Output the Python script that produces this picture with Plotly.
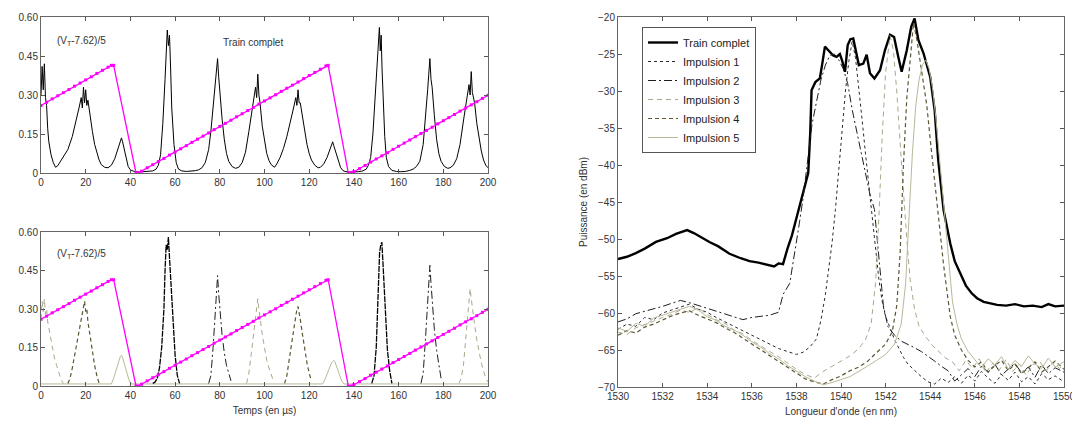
import plotly.graph_objects as go

# ---------------- Left panels: time traces (t in microseconds) ----------------
t_train = [0, 0.5, 1, 1.5, 2, 2.5, 3, 3.5, 4.5, 5.5, 6.5,
           7.5, 8.5, 10, 12, 14, 15.5, 17, 18, 18.5, 19, 19.5, 20, 20.5, 21, 22, 23, 24, 25, 26, 27, 28.5,
           30, 31.5, 33, 34.5, 35.5, 36, 36.5, 37, 38, 39, 40, 41, 42, 44, 46,
           48, 50, 51.5, 52.5, 53.5, 54.5, 55.5, 56, 56.5, 57, 57.5, 58, 58.5, 59.5, 60.5, 61.5, 63, 65, 67, 69,
           70.5, 72, 73.5, 75, 76, 77, 78, 78.5, 79, 79.5, 80, 81, 82, 83, 84, 85.5, 87,
           88.5, 90, 91.5, 93, 94.5, 95.5, 96, 96.5, 97, 97.5, 98, 99, 100, 101, 102, 103, 104.5,
           105.5, 107, 108.5, 110, 111.5, 113, 114, 114.5, 115, 115.5, 116, 117, 118, 119, 120, 121, 122.5, 124,
           125, 126.5, 128, 129, 130, 130.5, 131, 132, 133, 134, 135, 136, 138, 140, 142, 144, 145.5,
           146.5, 147.5, 148.5, 149.5, 150.2, 150.8, 151.4, 151.8, 152.2, 152.6, 153.2, 153.8, 154.5, 155.5, 157, 159, 161, 163, 165,
           166.5, 168, 169.5, 171, 172, 173, 173.5, 174, 174.5, 175, 176, 177, 178, 179, 180.5, 182,
           183, 184.5, 186, 187.5, 189, 190.5, 191.5, 192, 192.5, 193, 194, 195, 196, 197, 198, 199, 200]
v_train = [0.30, 0.41, 0.32, 0.42, 0.29, 0.26, 0.17, 0.12, 0.07, 0.04, 0.022,
           0.028, 0.042, 0.065, 0.09, 0.14, 0.19, 0.25, 0.29, 0.25, 0.33, 0.27, 0.32, 0.26, 0.28, 0.21, 0.16, 0.11, 0.075, 0.05, 0.032, 0.022,
           0.02, 0.03, 0.055, 0.095, 0.12, 0.135, 0.12, 0.10, 0.06, 0.025, 0.012, 0.007, 0.005, 0.004, 0.005,
           0.005, 0.008, 0.015, 0.03, 0.07, 0.19, 0.36, 0.47, 0.55, 0.49, 0.53, 0.40, 0.25, 0.11, 0.04, 0.015, 0.008, 0.006, 0.007, 0.009,
           0.012, 0.02, 0.04, 0.09, 0.16, 0.25, 0.35, 0.40, 0.44, 0.37, 0.31, 0.21, 0.13, 0.075, 0.045, 0.025, 0.018,
           0.022, 0.04, 0.08, 0.16, 0.24, 0.30, 0.33, 0.29, 0.38, 0.30, 0.27, 0.18, 0.12, 0.075, 0.048, 0.032, 0.022,
           0.035, 0.06, 0.095, 0.14, 0.19, 0.25, 0.29, 0.26, 0.32, 0.27, 0.27, 0.21, 0.15, 0.11, 0.075, 0.05, 0.03, 0.02,
           0.022, 0.035, 0.06, 0.085, 0.11, 0.12, 0.105, 0.075, 0.045, 0.022, 0.01, 0.006, 0.004, 0.004, 0.005, 0.008, 0.015,
           0.03, 0.06, 0.15, 0.29, 0.42, 0.50, 0.56, 0.47, 0.53, 0.40, 0.25, 0.14, 0.06, 0.025, 0.01, 0.006, 0.005, 0.006, 0.01,
           0.015, 0.025, 0.045, 0.11, 0.2, 0.32, 0.38, 0.44, 0.36, 0.33, 0.22, 0.13, 0.075, 0.045, 0.025, 0.018,
           0.02, 0.03, 0.055, 0.11, 0.2, 0.28, 0.34, 0.30, 0.39, 0.31, 0.27, 0.19, 0.13, 0.085, 0.05, 0.03, 0.02]

# Sawtooth control voltage (V_T - 7.62)/5
saw_t = [0, 2.5, 5, 7.5, 10, 12.5, 15, 17.5, 20, 22.5, 25, 27.5, 30, 31.5, 32.5,
         42.5, 43.5, 45, 47.5, 50, 52.5, 55, 57.5, 60, 62.5, 65, 67.5, 70, 72.5, 75, 77.5, 80, 82.5, 85,
         87.5, 90, 92.5, 95, 97.5, 100, 102.5, 105, 107.5, 110, 112.5, 115, 117.5, 120, 122.5, 125, 127.5, 128.5,
         137.5, 139, 140, 142.5, 145, 147.5, 150, 152.5, 155, 157.5, 160, 162.5, 165, 167.5, 170, 172.5, 175,
         177.5, 180, 182.5, 185, 187.5, 190, 192.5, 195, 197.5, 200]
saw_v = [0.260, 0.272, 0.285, 0.297, 0.309, 0.321, 0.334, 0.346, 0.358, 0.370, 0.383, 0.395, 0.407, 0.414, 0.414,
         0.0, 0.0, 0.007, 0.020, 0.032, 0.044, 0.056, 0.069, 0.081, 0.093, 0.105, 0.118, 0.130, 0.142, 0.154, 0.167, 0.179, 0.191, 0.203,
         0.216, 0.228, 0.240, 0.252, 0.265, 0.277, 0.289, 0.301, 0.314, 0.326, 0.338, 0.350, 0.363, 0.375, 0.387, 0.399, 0.412, 0.414,
         0.0, 0.0, 0.005, 0.017, 0.029, 0.042, 0.054, 0.066, 0.078, 0.091, 0.103, 0.115, 0.127, 0.140, 0.152, 0.164, 0.176,
         0.189, 0.201, 0.213, 0.225, 0.238, 0.250, 0.262, 0.274, 0.287, 0.299]

# Individual pulses (bottom panel); None separates pulses
imp1_t = [50, 51, 52, 53, 54, 55, 55.5, 56, 56.5, 57, 57.5, 58, 58.5, 59, 60, 61, 62, None,
          148, 149, 150, 150.5, 151, 151.5, 152, 152.5, 153, 153.5, 154, 155, 156, 157]
imp1_v = [0.01, 0.015, 0.03, 0.07, 0.15, 0.30, 0.45, 0.55, 0.53, 0.58, 0.50, 0.42, 0.35, 0.26, 0.12, 0.04, 0.01, None,
          0.01, 0.04, 0.15, 0.30, 0.45, 0.52, 0.55, 0.56, 0.48, 0.38, 0.28, 0.14, 0.06, 0.01]
imp2_t = [75, 76, 77, 78, 78.5, 79, 79.5, 80, 81, 82, 83, 84, 85, None,
          170, 171, 172, 173, 173.5, 174, 174.5, 175, 176, 177, 178, 179]
imp2_v = [0.01, 0.04, 0.15, 0.30, 0.38, 0.43, 0.36, 0.30, 0.20, 0.13, 0.08, 0.05, 0.02, None,
          0.01, 0.05, 0.18, 0.33, 0.42, 0.47, 0.40, 0.33, 0.22, 0.14, 0.08, 0.03]
imp3_t = [0, 0.5, 1, 1.5, 2, 2.5, 3, 4, 5, 6, 7, 8, 9, 10, None,
          92, 93, 94, 95, 96, 96.5, 97, 97.5, 98, 99, 100, 101, 102, 103, 104, None,
          187, 188, 189, 190, 191, 191.5, 192, 192.5, 193, 194, 195, 196, 197, 198, 199, 200]
imp3_v = [0.26, 0.33, 0.29, 0.34, 0.28, 0.30, 0.25, 0.20, 0.15, 0.11, 0.08, 0.05, 0.025, 0.01, None,
          0.01, 0.05, 0.12, 0.20, 0.28, 0.31, 0.34, 0.30, 0.26, 0.20, 0.15, 0.10, 0.07, 0.04, 0.02, None,
          0.01, 0.03, 0.08, 0.18, 0.28, 0.33, 0.38, 0.34, 0.30, 0.24, 0.18, 0.13, 0.09, 0.06, 0.03, 0.015]
imp4_t = [12, 13, 14, 15, 16, 17, 18, 19, 19.5, 20, 20.5, 21, 22, 23, 24, 25, 26, None,
          109, 110, 111, 112, 113, 114, 114.5, 115, 115.5, 116, 117, 118, 119, 120, 121]
imp4_v = [0.01, 0.03, 0.07, 0.12, 0.17, 0.22, 0.27, 0.31, 0.33, 0.29, 0.30, 0.25, 0.19, 0.13, 0.08, 0.04, 0.01, None,
          0.01, 0.04, 0.10, 0.16, 0.22, 0.27, 0.30, 0.31, 0.29, 0.26, 0.20, 0.14, 0.09, 0.05, 0.02]
imp5_t = [0, 31.5, 32.5, 33.5, 34.5, 35.5, 36, 36.5, 37.5, 38.5, 39.5, 40.5,
          126, 127, 128, 129, 130, 131, 131.5, 132.5, 133.5, 134.5, 135.5, 200]
imp5_v = [0.008, 0.008, 0.03, 0.06, 0.09, 0.115, 0.12, 0.11, 0.08, 0.05, 0.02, 0.008,
          0.008, 0.025, 0.045, 0.07, 0.09, 0.10, 0.095, 0.07, 0.045, 0.02, 0.008, 0.008]

time_ticks = [0, 20, 40, 60, 80, 100, 120, 140, 160, 180, 200]
amp_ticks = [0, 0.15, 0.30, 0.45, 0.60]
amp_labels = ["0", "0.15", "0.30", "0.45", "0.60"]

# ---------------- Right panel: optical spectra (nm, dBm) ----------------
lam_t = [1530.0, 1530.4, 1530.8, 1531.2, 1531.7, 1532.2, 1532.6, 1532.9, 1533.1, 1533.4, 1533.8, 1534.1, 1534.5,
         1535.0, 1535.5, 1535.9, 1536.3, 1536.7, 1537.0, 1537.2, 1537.4, 1537.6, 1537.8, 1538.0, 1538.25, 1538.4,
         1538.53, 1538.62, 1538.68, 1538.85, 1539.05, 1539.15, 1539.28, 1539.4, 1539.5, 1539.65, 1539.8, 1539.95,
         1540.05, 1540.18, 1540.3, 1540.42, 1540.55, 1540.68, 1540.8, 1541.0, 1541.15, 1541.3, 1541.5, 1541.75,
         1541.97, 1542.2, 1542.38, 1542.57, 1542.72, 1542.95, 1543.15, 1543.3, 1543.47, 1543.7, 1544.0, 1544.2,
         1544.36, 1544.6, 1544.9, 1545.1, 1545.35, 1545.6, 1545.85, 1546.1, 1546.4, 1546.7, 1547.0, 1547.4, 1547.8,
         1548.2, 1548.6, 1549.0, 1549.3, 1549.6, 1550.0]
p_train = [-52.7, -52.4, -51.9, -51.3, -50.4, -49.9, -49.3, -49.0, -48.8, -49.2, -49.9, -50.4, -51.0,
           -52.0, -52.6, -53.0, -53.2, -53.5, -53.7, -53.3, -53.4, -51.3, -49.5, -47.2, -44.3, -42.5,
           -41.1, -35.7, -29.9, -28.8, -28.3, -26.5, -24.0, -24.4, -24.7, -25.2, -25.4, -25.0,
           -25.9, -27.4, -23.8, -23.0, -22.9, -24.6, -26.5, -26.3, -25.1, -27.6, -28.3, -27.2,
           -24.5, -22.4, -22.7, -25.4, -27.4, -24.5, -21.3, -20.2, -23.1, -24.9, -28.1, -32.6,
           -39.3, -46.1, -50.6, -53.0, -54.6, -56.3, -57.3, -58.0, -58.5, -58.7, -58.9, -59.0, -58.8,
           -59.1, -59.0, -59.2, -58.8, -59.1, -59.0]

lam1 = [1530.0, 1530.4, 1530.8, 1531.2, 1531.6, 1532.0, 1532.4, 1532.8, 1533.2, 1533.6, 1534.0, 1534.4, 1534.8,
        1535.2, 1535.6, 1536.0, 1536.4, 1536.8, 1537.2, 1537.6, 1538.0, 1538.3, 1538.6, 1538.9, 1539.1, 1539.3,
        1539.45, 1539.6, 1539.75, 1539.9, 1540.05, 1540.2, 1540.35, 1540.5, 1540.65, 1540.8, 1540.95, 1541.1,
        1541.25, 1541.4, 1541.55, 1541.7, 1541.85, 1542.0, 1542.2, 1542.4, 1542.6, 1542.8, 1543.0, 1543.3, 1543.6,
        1543.9, 1544.2, 1544.5, 1544.8, 1545.1, 1545.4, 1545.7, 1546.0, 1546.3, 1546.6, 1546.9, 1547.2, 1547.5,
        1547.8, 1548.1, 1548.4, 1548.7, 1549.0, 1549.3, 1549.6, 1550.0]
p1 = [-62.2, -61.5, -61.8, -60.6, -60.9, -60.0, -59.6, -59.2, -58.8, -59.5, -59.9, -60.6, -61.2,
      -61.9, -62.4, -63.1, -63.6, -64.3, -64.8, -65.2, -65.6, -65.3, -64.6, -63.5, -61.0, -57.5,
      -54.0, -50.5, -46.0, -40.5, -35.0, -30.0, -26.0, -23.3, -25.5, -29.5, -34.0, -38.5,
      -43.0, -47.5, -51.5, -55.5, -58.5, -60.5, -62.0, -63.6, -64.8, -66.0, -66.9, -67.8, -68.6,
      -69.3, -69.6, -68.8, -69.4, -68.6, -69.5, -68.4, -69.2, -67.9, -68.8, -69.5, -68.3, -69.1,
      -68.0, -69.3, -68.6, -69.6, -68.2, -69.0, -68.5, -69.3]

lam2 = [1530.0, 1530.4, 1530.8, 1531.2, 1531.6, 1532.0, 1532.4, 1532.8, 1533.2, 1533.6, 1534.0, 1534.4, 1534.8,
        1535.2, 1535.6, 1536.0, 1536.4, 1536.8, 1537.2, 1537.4, 1537.7, 1537.9, 1538.1, 1538.3, 1538.5, 1538.7,
        1538.9, 1539.1, 1539.3, 1539.5, 1539.7, 1539.9, 1540.1, 1540.3, 1540.5, 1540.7, 1540.9, 1541.1, 1541.3,
        1541.5, 1541.7, 1541.9, 1542.1, 1542.4, 1542.7, 1543.0, 1543.3, 1543.6, 1543.9, 1544.2, 1544.5, 1544.8,
        1545.1, 1545.4, 1545.7, 1546.0, 1546.3, 1546.6, 1546.9, 1547.2, 1547.5, 1547.8, 1548.1, 1548.4, 1548.7,
        1549.0, 1549.3, 1549.6, 1550.0]
p2 = [-61.2, -60.8, -60.1, -59.8, -59.4, -59.1, -58.7, -58.3, -58.6, -59.0, -59.3, -59.8, -60.2,
      -60.5, -60.9, -60.6, -60.5, -60.3, -59.9, -57.5, -56.0, -52.5, -48.5, -44.5, -39.5, -34.5,
      -31.5, -28.5, -26.5, -25.2, -25.0, -25.8, -27.0, -29.0, -32.5, -35.5, -38.5, -41.5, -44.0,
      -46.0, -52.0, -59.0, -61.8, -63.0, -63.8, -64.2, -64.7, -65.2, -65.8, -66.5, -67.2, -67.8,
      -69.2, -68.3, -67.5, -68.6, -67.2, -68.0, -66.9, -68.4, -67.6, -66.8, -68.1, -67.3, -68.7,
      -67.0, -68.2, -67.4, -68.0]

lam3 = [1530.0, 1530.4, 1530.8, 1531.2, 1531.6, 1532.0, 1532.4, 1532.8, 1533.2, 1533.6, 1534.0, 1534.4, 1534.8,
        1535.2, 1535.6, 1536.0, 1536.4, 1536.8, 1537.2, 1537.6, 1538.0, 1538.4, 1538.8, 1539.2, 1539.6, 1540.0,
        1540.4, 1540.8, 1541.1, 1541.35, 1541.55, 1541.7, 1541.85, 1542.0, 1542.2, 1542.35, 1542.5, 1542.65,
        1542.8, 1542.95, 1543.1, 1543.3, 1543.5, 1543.8, 1544.1, 1544.4, 1544.7, 1545.0, 1545.3, 1545.6, 1545.9,
        1546.2, 1546.5, 1546.8, 1547.1, 1547.4, 1547.7, 1548.0, 1548.3, 1548.6, 1548.9, 1549.2, 1549.5, 1549.8,
        1550.0]
p3 = [-62.6, -62.9, -62.0, -61.6, -61.1, -60.6, -60.2, -59.6, -59.9, -59.3, -60.2, -60.9, -61.4,
      -62.3, -62.8, -63.7, -64.5, -65.2, -65.9, -66.8, -67.6, -68.3, -68.8, -67.9, -67.2, -66.4,
      -65.8, -64.8, -63.6, -61.5, -56.0, -47.0, -36.0, -27.5, -22.5, -24.5, -30.0, -37.0,
      -44.0, -50.0, -55.5, -59.5, -61.8, -63.2, -64.4, -65.3, -66.1, -66.6, -67.8, -66.4, -67.5,
      -66.2, -68.1, -66.8, -67.7, -66.3, -67.9, -66.9, -68.4, -67.0, -66.5, -67.8, -66.7, -67.5,
      -66.9]

lam4 = [1530.0, 1530.4, 1530.8, 1531.2, 1531.6, 1532.0, 1532.4, 1532.8, 1533.2, 1533.6, 1534.0, 1534.4, 1534.8,
        1535.2, 1535.6, 1536.0, 1536.4, 1536.8, 1537.2, 1537.6, 1538.0, 1538.4, 1538.8, 1539.2, 1539.6, 1540.0,
        1540.4, 1540.8, 1541.2, 1541.6, 1542.0, 1542.3, 1542.5, 1542.65, 1542.8, 1542.95, 1543.1, 1543.25,
        1543.4, 1543.55, 1543.7, 1543.85, 1544.0, 1544.15, 1544.3, 1544.45, 1544.6, 1544.75, 1544.9, 1545.1,
        1545.4, 1545.7, 1546.0, 1546.3, 1546.6, 1546.9, 1547.2, 1547.5, 1547.8, 1548.1, 1548.4, 1548.7, 1549.0,
        1549.3, 1549.6, 1550.0]
p4 = [-63.0, -62.4, -62.7, -61.9, -61.5, -60.9, -60.4, -60.0, -59.7, -60.3, -60.8, -61.3, -62.0,
      -62.6, -63.4, -64.2, -65.0, -65.8, -66.6, -67.4, -68.2, -68.9, -69.3, -69.6, -69.0, -68.5,
      -67.8, -67.3, -66.5, -65.4, -64.2, -62.5, -59.0, -52.0, -40.0, -31.0, -25.5, -20.8,
      -23.0, -26.0, -28.5, -32.0, -36.5, -41.0, -45.5, -49.5, -53.5, -57.0, -60.5, -63.0,
      -65.0, -66.4, -67.3, -66.6, -68.0, -67.1, -66.4, -67.8, -66.9, -68.2, -67.4, -66.6, -68.0,
      -67.2, -66.5, -67.6]

lam5 = [1530.0, 1530.4, 1530.8, 1531.2, 1531.6, 1532.0, 1532.4, 1532.8, 1533.2, 1533.6, 1534.0, 1534.4, 1534.8,
        1535.2, 1535.6, 1536.0, 1536.4, 1536.8, 1537.2, 1537.6, 1538.0, 1538.4, 1538.8, 1539.2, 1539.6, 1540.0,
        1540.4, 1540.8, 1541.2, 1541.6, 1542.0, 1542.4, 1542.7, 1542.9, 1543.05, 1543.2, 1543.35, 1543.5,
        1543.65, 1543.8, 1543.95, 1544.1, 1544.25, 1544.4, 1544.55, 1544.7, 1544.85, 1545.0, 1545.2, 1545.4,
        1545.7, 1546.0, 1546.3, 1546.6, 1546.9, 1547.2, 1547.5, 1547.8, 1548.1, 1548.4, 1548.7, 1549.0, 1549.3,
        1549.6, 1550.0]
p5 = [-62.0, -62.5, -61.4, -61.8, -60.7, -60.3, -59.8, -59.5, -59.1, -59.6, -60.5, -61.0, -61.8,
      -62.3, -63.0, -63.9, -64.6, -65.5, -66.2, -67.1, -67.9, -68.6, -69.2, -69.7, -69.4, -69.0,
      -68.6, -67.9, -67.2, -66.4, -65.6, -64.2, -61.5, -56.0, -47.0, -38.5, -32.0, -28.5,
      -26.5, -25.8, -27.0, -29.5, -33.5, -38.5, -44.0, -49.5, -54.5, -58.5, -61.5, -63.5,
      -65.2, -66.3, -67.4, -66.2, -67.0, -65.9, -67.6, -66.4, -67.2, -65.8, -66.9, -67.5, -66.1,
      -67.3, -66.6]

lam_ticks = [1530, 1532, 1534, 1536, 1538, 1540, 1542, 1544, 1546, 1548, 1550]
pow_ticks = [-70, -65, -60, -55, -50, -45, -40, -35, -30, -25, -20]

# ---------------- Styles / geometry ----------------
FONT = "Liberation Sans, Arial, sans-serif"
MAG = "#ff00ff"
styles = {
    "Impulsion 1": dict(color="#2a2a2a", dash="3px,3px", width=1),
    "Impulsion 2": dict(color="#1e1e1e", dash="8px,3px,2px,3px", width=1),
    "Impulsion 3": dict(color="#a9a88c", dash="5px,4px", width=1),
    "Impulsion 4": dict(color="#5e5632", dash="4px,3px", width=1.2),
    "Impulsion 5": dict(color="#b9b89a", dash="solid", width=1),
}

# the page body adds an 8px offset; the figure is sized so it fits the 1080x428 window
OFF = 8
FW, FH = 1080 - OFF, 428 - OFF


def fx(px):
    return (px - OFF) / FW


def fy(py):
    return 1 - (py - OFF) / FH


fig = go.Figure()

# top-left
fig.add_trace(go.Scatter(x=t_train, y=v_train, mode="lines", line=dict(color="black", width=1),
                         showlegend=False, xaxis="x", yaxis="y"))
fig.add_trace(go.Scatter(x=saw_t, y=saw_v, mode="lines+markers", line=dict(color=MAG, width=1.3),
                         marker=dict(color=MAG, size=3, symbol="square"),
                         showlegend=False, xaxis="x", yaxis="y"))

# bottom-left
pulse_sets = [("Impulsion 5", imp5_t, imp5_v), ("Impulsion 3", imp3_t, imp3_v),
              ("Impulsion 4", imp4_t, imp4_v), ("Impulsion 2", imp2_t, imp2_v),
              ("Impulsion 1", imp1_t, imp1_v)]
for name, tt, vv in pulse_sets:
    st = dict(styles[name])
    if name == "Impulsion 1":
        st = dict(color="black", dash="6px,1px", width=1.3)
    fig.add_trace(go.Scatter(x=tt, y=vv, mode="lines", line=st, showlegend=False,
                             connectgaps=False, xaxis="x2", yaxis="y2"))
fig.add_trace(go.Scatter(x=saw_t, y=saw_v, mode="lines+markers", line=dict(color=MAG, width=1.3),
                         marker=dict(color=MAG, size=3, symbol="square"),
                         showlegend=False, xaxis="x2", yaxis="y2"))

# right
fig.add_trace(go.Scatter(x=lam_t, y=p_train, mode="lines", name="Train complet",
                         line=dict(color="black", width=2.4), xaxis="x3", yaxis="y3"))
for name, ll, pp in [("Impulsion 1", lam1, p1), ("Impulsion 2", lam2, p2), ("Impulsion 3", lam3, p3),
                     ("Impulsion 4", lam4, p4), ("Impulsion 5", lam5, p5)]:
    fig.add_trace(go.Scatter(x=ll, y=pp, mode="lines", name=name, line=styles[name],
                             xaxis="x3", yaxis="y3"))

axis_common = dict(showline=True, linecolor="#666", linewidth=1, mirror="ticks", ticks="inside",
                   ticklen=4, tickcolor="#555", showgrid=False, zeroline=False, automargin=False,
                   tickfont=dict(family=FONT, size=10, color="#333"))

LX = [fx(41), fx(488)]
fig.update_layout(
    width=FW, height=FH, margin=dict(l=0, r=0, t=0, b=0, autoexpand=False),
    paper_bgcolor="white", plot_bgcolor="white",
    font=dict(family=FONT, size=10, color="#333"),
    xaxis=dict(domain=LX, range=[0, 200], tickvals=time_ticks, anchor="y", **axis_common),
    yaxis=dict(domain=[fy(173), fy(17)], range=[0, 0.6], tickvals=amp_ticks,
               ticktext=amp_labels, anchor="x", **axis_common),
    xaxis2=dict(domain=LX, range=[0, 200], tickvals=time_ticks, anchor="y2",
                title=dict(text="Temps (en µs)", standoff=6, font=dict(size=10, color="#333")),
                **axis_common),
    yaxis2=dict(domain=[fy(386), fy(232)], range=[0, 0.6], tickvals=amp_ticks,
                ticktext=amp_labels, anchor="x2", **axis_common),
    xaxis3=dict(domain=[fx(618), fx(1064)], range=[1530, 1550], tickvals=lam_ticks, anchor="y3",
                title=dict(text="Longueur d'onde (en nm)", standoff=6, font=dict(size=10, color="#333")),
                **axis_common),
    yaxis3=dict(domain=[fy(387), fy(17)], range=[-70, -20], tickvals=pow_ticks, anchor="x3",
                title=dict(text="Puissance (en dBm)", standoff=8, font=dict(size=10, color="#333")),
                **axis_common),
    legend=dict(x=fx(642), y=fy(27), xanchor="left", yanchor="top",
                bgcolor="white", bordercolor="#555", borderwidth=1,
                font=dict(family=FONT, size=11, color="#222"), tracegroupgap=0),
    annotations=[
        dict(text="(V<sub>T</sub>-7.62)/5", x=fx(55), y=fy(41), xref="paper", yref="paper",
             xanchor="left", yanchor="middle", showarrow=False, font=dict(size=10, color="#333")),
        dict(text="Train complet", x=fx(253), y=fy(42), xref="paper", yref="paper",
             xanchor="center", yanchor="middle", showarrow=False, font=dict(size=10, color="#333")),
        dict(text="(V<sub>T</sub>-7.62)/5", x=fx(55), y=fy(254), xref="paper", yref="paper",
             xanchor="left", yanchor="middle", showarrow=False, font=dict(size=10, color="#333")),
    ],
)

fig.write_html("out.html")
